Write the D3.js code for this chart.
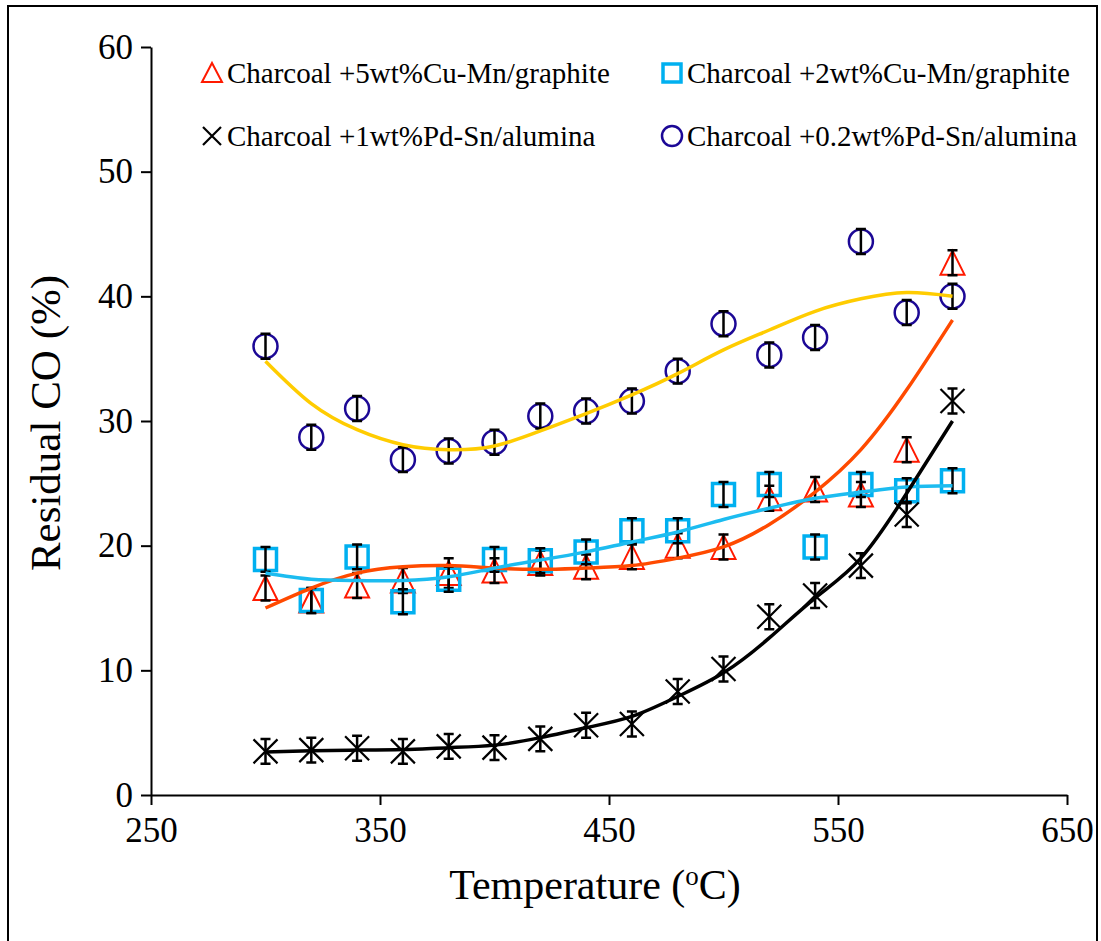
<!DOCTYPE html>
<html>
<head>
<meta charset="utf-8">
<script src="https://cdn.jsdelivr.net/npm/d3@7"></script>
<style>
  body { margin: 0; background: #fff; }
  svg text { font-family: "Liberation Serif", "DejaVu Serif", serif; fill: #000; }
  .axis path, .axis line { stroke: #000; stroke-width: 2; }
  .trend { fill: none; stroke-width: 3.5; }
  .err { stroke: #000; stroke-width: 2.5; fill: none; }
</style>
</head>
<body>
<div id="chart"></div>
<script>
// temperatures (x values)
var temps = [300, 320, 340, 360, 380, 400, 420, 440, 460, 480, 500, 520, 540, 560, 580, 600];

// measured residual CO (%)
var cuMn5 = [16.6, 15.6, 16.8, 17.2, 17.8, 18.0, 18.6, 18.3, 19.1, 20.0, 19.9, 23.8, 24.5, 24.1, 27.7, 42.7];
var cuMn2 = [18.9, 15.6, 19.1, 15.5, 17.3, 18.9, 18.8, 19.5, 21.2, 21.2, 24.1, 24.9, 19.9, 24.9, 24.4, 25.2];
var pdSn1 = [3.5, 3.6, 3.75, 3.5, 3.9, 3.8, 4.5, 5.6, 5.7, 8.3, 10.1, 14.3, 16.0, 18.4, 22.5, 31.6];
var pdSn02 = [36.0, 28.7, 31.0, 26.9, 27.6, 28.3, 30.4, 30.8, 31.6, 34.0, 37.8, 35.3, 36.7, 44.4, 38.7, 40.0];

// error bar half heights
var cuMn5Err = [1, 1, 1, 1, 1.2, 1, 1, 1, 1, 1, 1, 1, 1, 1, 1, 1];
var cuMn2Err = [1, 1, 1, 1, 1, 1, 1, 1, 1, 1, 1, 1, 1, 1, 1, 1];
var pdSn1Err = [1, 1, 1, 1, 1, 1, 1, 1, 1, 1, 1, 1, 1, 1, 1, 1];
var pdSn02Err = [1, 1, 1, 1, 1, 1, 1, 1, 1, 1, 1, 1, 1, 1, 1, 1];

// trend lines at each temperature
var cuMn5Trend = [15.0, 16.6, 17.8, 18.3, 18.4, 18.2, 18.1, 18.2, 18.4, 19.0, 19.9, 21.7, 24.3, 27.7, 32.5, 38.1];
var cuMn2Trend = [17.8, 17.3, 17.2, 17.2, 17.5, 18.2, 18.85, 19.5, 20.3, 21.1, 22.1, 23.0, 23.8, 24.3, 24.7, 24.8];
var pdSn1Trend = [3.45, 3.55, 3.6, 3.65, 3.8, 4.0, 4.6, 5.4, 6.3, 7.9, 9.8, 12.6, 15.8, 19.0, 24.2, 30.0];
var pdSn02Trend = [34.8, 31.4, 29.3, 28.1, 27.7, 28.0, 29.2, 30.6, 32.1, 33.8, 35.7, 37.3, 38.8, 39.8, 40.3, 40.0];

var xTicks = [250, 350, 450, 550, 650];
var yTicks = [0, 10, 20, 30, 40, 50, 60];

var legendNames = ["Charcoal +5wt%Cu-Mn/graphite", "Charcoal +2wt%Cu-Mn/graphite",
    "Charcoal +1wt%Pd-Sn/alumina", "Charcoal +0.2wt%Pd-Sn/alumina"];

// set the dimensions and margins of the graph
var margin = { top: 47, right: 34, bottom: 146, left: 151 },
    width = 1101 - margin.left - margin.right,
    height = 941 - margin.top - margin.bottom;

var svg = d3.select("#chart").append("svg")
    .attr("width", 1101)
    .attr("height", 941);

// outer frame
svg.append("rect")
    .attr("x", 8).attr("y", 6)
    .attr("width", 1089).attr("height", 945)
    .attr("fill", "none")
    .attr("stroke", "#000")
    .attr("stroke-width", 2);

var g = svg.append("g")
    .attr("transform", "translate(" + margin.left + "," + margin.top + ")");

var x = d3.scaleLinear().domain([250, 650]).range([0, width]);
var y = d3.scaleLinear().domain([0, 60]).range([height, 0]);

// axes
var xAxis = g.append("g")
    .attr("class", "axis")
    .attr("transform", "translate(0," + height + ")")
    .call(d3.axisBottom(x).tickValues(xTicks).tickSize(10).tickSizeOuter(0).tickPadding(12));
xAxis.attr("font-family", null);
xAxis.selectAll("text").style("font-size", "35px");

var yAxis = g.append("g")
    .attr("class", "axis")
    .call(d3.axisLeft(y).tickValues(yTicks).tickSize(10).tickSizeOuter(0).tickPadding(8));
yAxis.attr("font-family", null);
yAxis.selectAll("text").style("font-size", "35px");

// axis titles
var xTitle = g.append("text")
    .attr("x", x(450) - 14)
    .attr("y", height + 104)
    .style("text-anchor", "middle")
    .style("font-size", "42px");
xTitle.append("tspan").text("Temperature (");
xTitle.append("tspan").attr("dy", "-14").style("font-size", "27px").text("o");
xTitle.append("tspan").attr("dy", "14").text("C)");

g.append("text")
    .attr("transform", "rotate(-90)")
    .attr("x", -(y(30)) - 2)
    .attr("y", -91)
    .style("text-anchor", "middle")
    .style("font-size", "43px")
    .text("Residual CO (%)");

// marker shapes
function triPath(cx, cy) {
    return "M" + cx + "," + (cy - 12) + "L" + (cx + 12) + "," + (cy + 12) + "L" + (cx - 12) + "," + (cy + 12) + "Z";
}
function sqPath(cx, cy) {
    return "M" + (cx - 11) + "," + (cy - 11) + "h22v22h-22Z";
}
function crossPath(cx, cy) {
    return "M" + (cx - 12) + "," + (cy - 12) + "L" + (cx + 12) + "," + (cy + 12) +
        "M" + (cx + 12) + "," + (cy - 12) + "L" + (cx - 12) + "," + (cy + 12);
}

var series = [
    { vals: cuMn5, err: cuMn5Err, trend: cuMn5Trend, shape: "tri", color: "#ff1a00", line: "#ff4a00", sw: 2 },
    { vals: cuMn2, err: cuMn2Err, trend: cuMn2Trend, shape: "sq", color: "#00b0f0", line: "#1cbcf0", sw: 3.5 },
    { vals: pdSn1, err: pdSn1Err, trend: pdSn1Trend, shape: "cross", color: "#000", line: "#000", sw: 2.2 },
    { vals: pdSn02, err: pdSn02Err, trend: pdSn02Trend, shape: "circ", color: "#1c0896", line: "#ffcc00", sw: 2.5 }
];

var trendLine = d3.line()
    .x(function (d, i) { return x(temps[i]); })
    .y(function (d) { return y(d); })
    .curve(d3.curveNatural);

function drawMarker(sel, shape, cx, cy, s) {
    if (shape === "circ") {
        sel.append("circle").attr("cx", cx).attr("cy", cy).attr("r", 12)
            .attr("fill", "none").attr("stroke", s.color).attr("stroke-width", s.sw);
    } else {
        var d = shape === "tri" ? triPath(cx, cy) : shape === "sq" ? sqPath(cx, cy) : crossPath(cx, cy);
        sel.append("path").attr("d", d)
            .attr("fill", "none").attr("stroke", s.color).attr("stroke-width", s.sw);
    }
}

series.forEach(function (s) {
    var sg = g.append("g");
    s.vals.forEach(function (v, i) {
        drawMarker(sg, s.shape, x(temps[i]), y(v), s);
    });
    // error bars
    s.vals.forEach(function (v, i) {
        var cx = x(temps[i]), top = y(v + s.err[i]), bot = y(v - s.err[i]);
        sg.append("path")
            .attr("class", "err")
            .attr("d", "M" + cx + "," + top + "V" + bot +
                "M" + (cx - 5) + "," + top + "h10" +
                "M" + (cx - 5) + "," + bot + "h10");
    });
});

// trend lines on top
series.forEach(function (s) {
    g.append("path")
        .datum(s.trend)
        .attr("class", "trend")
        .attr("stroke", s.line)
        .attr("d", trendLine);
});

// legend
var legendPos = [[212, 73], [672, 73], [212, 136], [672, 136]];
series.forEach(function (s, i) {
    var lx = legendPos[i][0], ly = legendPos[i][1];
    if (s.shape === "circ") {
        svg.append("circle").attr("cx", lx).attr("cy", ly).attr("r", 10)
            .attr("fill", "none").attr("stroke", s.color).attr("stroke-width", 2.5);
    } else if (s.shape === "tri") {
        svg.append("path").attr("d", "M" + lx + "," + (ly - 10) + "L" + (lx + 10) + "," + (ly + 9) + "L" + (lx - 10) + "," + (ly + 9) + "Z")
            .attr("fill", "none").attr("stroke", s.color).attr("stroke-width", 2);
    } else if (s.shape === "sq") {
        svg.append("path").attr("d", "M" + (lx - 9) + "," + (ly - 9) + "h18v18h-18Z")
            .attr("fill", "none").attr("stroke", s.color).attr("stroke-width", 3.5);
    } else {
        svg.append("path").attr("d", "M" + (lx - 9) + "," + (ly - 9) + "L" + (lx + 9) + "," + (ly + 9) + "M" + (lx + 9) + "," + (ly - 9) + "L" + (lx - 9) + "," + (ly + 9))
            .attr("fill", "none").attr("stroke", s.color).attr("stroke-width", 2.2);
    }
    svg.append("text")
        .attr("x", lx + 15)
        .attr("y", ly + 10)
        .style("font-size", "29px")
        .text(legendNames[i]);
});
</script>
</body>
</html>
